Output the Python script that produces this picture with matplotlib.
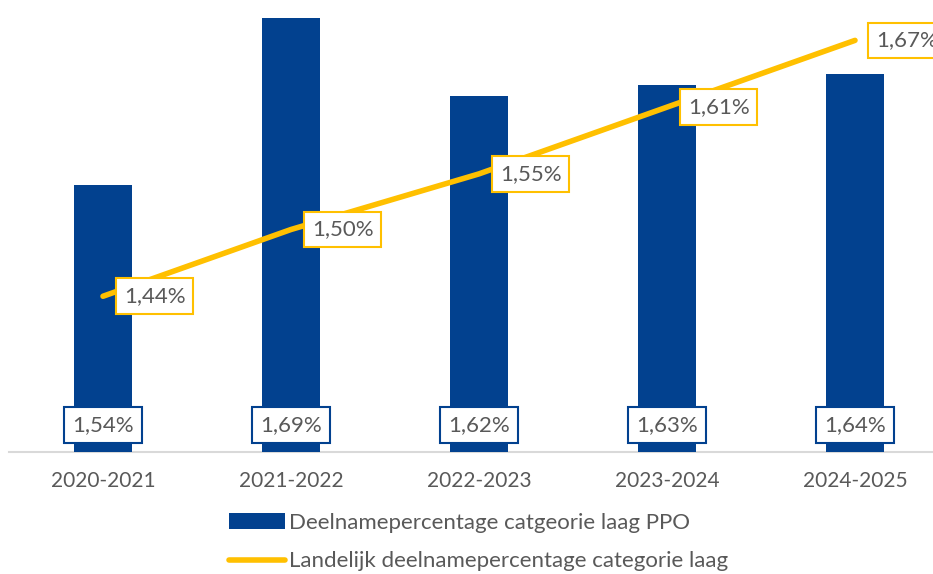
import matplotlib.pyplot as plt

jaren = ['2020-2021', '2021-2022', '2022-2023', '2023-2024', '2024-2025']
ppo_laag = [1.54, 1.69, 1.62, 1.63, 1.64]
landelijk_laag = [1.44, 1.50, 1.55, 1.61, 1.67]

blauw = '#02418f'
geel = '#ffc000'
grijs = '#595959'

plt.rcParams['font.family'] = ['Lato', 'DejaVu Sans']

fig = plt.figure(figsize=(9.33, 5.74), dpi=100)
ax = fig.add_axes([9 / 933, 122 / 574, 940 / 933, 445 / 574])

x = list(range(len(jaren)))
staaf = ax.bar(x, ppo_laag, width=0.31, color=blauw, zorder=2,
               label='Deelnamepercentage catgeorie laag PPO')
lijn, = ax.plot(x, landelijk_laag, color=geel, lw=4, solid_capstyle='round', zorder=3,
                label='Landelijk deelnamepercentage categorie laag')

ax.set_xlim(-0.5, 4.5)
ax.set_ylim(1.30, 1.70)
ax.set_xticks(x)
ax.set_xticklabels(jaren, fontsize=15, color=grijs)
ax.tick_params(axis='x', length=0, pad=14)
ax.set_yticks([])
for s in ['top', 'right', 'left']:
    ax.spines[s].set_visible(False)
ax.spines['bottom'].set_color('#d9d9d9')
ax.spines['bottom'].set_linewidth(1.5)
ax.spines['bottom'].set_zorder(1)

for i, v in enumerate(ppo_laag):
    ax.annotate(('%.2f%%' % v).replace('.', ','), xy=(i, 1.30), xytext=(0, 19.5),
                textcoords='offset points', ha='center', va='center',
                fontsize=16, color=grijs, zorder=5,
                bbox=dict(boxstyle='square,pad=0.35', fc='white', ec=blauw, lw=1.5))

for i, v in enumerate(landelijk_laag):
    ax.annotate(('%.2f%%' % v).replace('.', ','), xy=(i, v), xytext=(15, 0),
                textcoords='offset points', ha='left', va='center',
                fontsize=16, color=grijs, zorder=5,
                bbox=dict(boxstyle='square,pad=0.35', fc='white', ec=geel, lw=1.5))

leg = ax.legend([staaf, lijn], [staaf.get_label(), lijn.get_label()],
                loc='upper center', bbox_to_anchor=(479 / 933, 1 - 497 / 574),
                bbox_transform=fig.transFigure, ncol=1, frameon=False,
                fontsize=16, labelcolor=grijs, handlelength=2.5, handletextpad=0.2,
                labelspacing=0.85, borderpad=0.2)

fig.savefig('out.png', dpi=100)
